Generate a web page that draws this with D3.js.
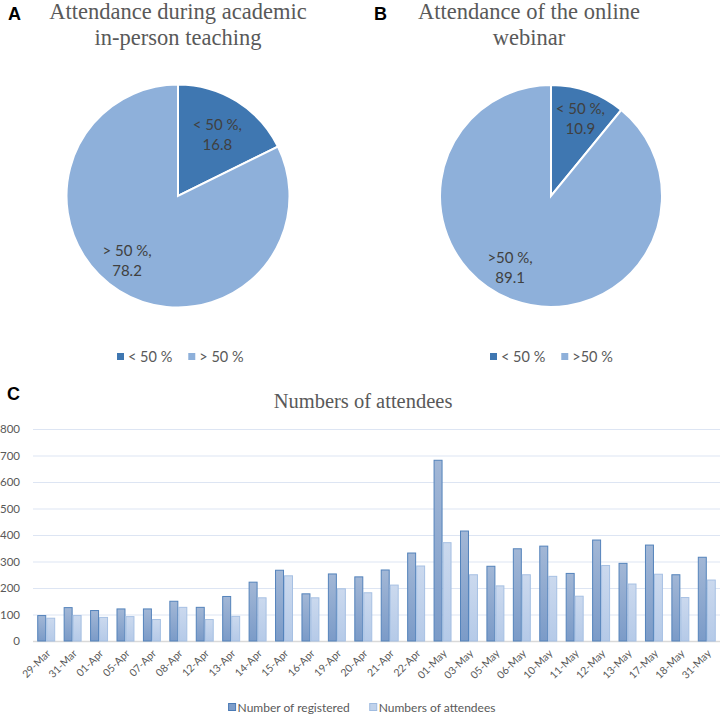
<!DOCTYPE html>
<html><head><meta charset="utf-8">
<script src="https://cdn.jsdelivr.net/npm/d3@7"></script>
<style>
html,body{margin:0;padding:0;background:#fff;}
svg{display:block;}
</style></head>
<body>
<svg id="chart" width="723" height="718"></svg>
<script>
// ---------- DATA ----------
const pieACategories = ["< 50 %", "> 50 %"];
const pieAValues = [16.8, 78.2];
const pieALabels = ["< 50 %,", "> 50 %,"];
const pieBCategories = ["< 50 %", ">50 %"];
const pieBValues = [10.9, 89.1];
const pieBLabels = ["< 50 %,", ">50 %,"];

const dates = ["29-Mar","31-Mar","01-Apr","05-Apr","07-Apr","08-Apr","12-Apr","13-Apr","14-Apr","15-Apr","16-Apr","19-Apr","20-Apr","21-Apr","22-Apr","01-May","03-May","05-May","06-May","10-May","11-May","12-May","13-May","17-May","18-May","31-May"];
const registered = [96,126,115,121,121,150,127,168,222,267,178,253,242,268,332,682,415,282,348,358,255,381,293,362,250,316];
const attendees  = [86,96,89,92,81,127,81,93,163,246,163,197,182,211,283,371,250,208,250,244,169,285,215,252,164,230];
const seriesNames = ["Number of registered", "Numbers of attendees"];
const yTicks = [0,100,200,300,400,500,600,700,800];

// ---------- SETUP ----------
const svg = d3.select("#chart");
const sans = "Lato, 'Open Sans', sans-serif";
const serif = "'Liberation Serif', 'Times New Roman', serif";
const gray = "#595959";
const pieColors = ["#3f77b1", "#8eb0da"];

const defs = svg.append("defs");
function grad(id, top, bottom) {
  const g = defs.append("linearGradient").attr("id", id).attr("x1",0).attr("y1",0).attr("x2",0).attr("y2",1);
  g.append("stop").attr("offset","0%").attr("stop-color",top);
  g.append("stop").attr("offset","100%").attr("stop-color",bottom);
}
grad("gDark", "#a2b7d6", "#7b9bc8");
grad("gLight", "#cbd9ee", "#b5cae8");

// panel letters
[["A",8,20],["B",374,20],["C",7,400]].forEach(([t,x,y]) => {
  svg.append("text").attr("x",x).attr("y",y).text(t)
    .attr("font-family","'Liberation Sans', Arial, sans-serif").attr("font-weight","bold")
    .attr("font-size",18).attr("fill","#000");
});

// ---------- PIES ----------
function drawPie(cfg) {
  const g = svg.append("g").attr("transform", `translate(${cfg.cx},${cfg.cy})`);
  const pie = d3.pie().sort(null).value(d => d)(cfg.values);
  const arc = d3.arc().innerRadius(0).outerRadius(cfg.r);
  g.selectAll("path").data(pie).join("path")
    .attr("d", arc).attr("fill", (d,i) => pieColors[i])
    .attr("stroke", "#fff").attr("stroke-width", 2);
  pie.forEach((d,i) => {
    const lr = cfg.r * cfg.labelR[i];
    const a = (d.startAngle + d.endAngle)/2 + cfg.labelShift[i];
    const x = Math.sin(a)*lr, y = -Math.cos(a)*lr;
    const t = g.append("text").attr("text-anchor","middle")
      .attr("font-family", sans).attr("font-size", 15).attr("fill","#404040");
    t.append("tspan").attr("x", x).attr("y", y - 9).text(cfg.labels[i]);
    t.append("tspan").attr("x", x).attr("y", y + 11).text(cfg.values[i]);
  });
  // title
  const tt = svg.append("text").attr("text-anchor","middle")
    .attr("font-family", serif).attr("font-size", 22.5).attr("fill", gray);
  cfg.title.forEach((line, k) => tt.append("tspan").attr("x", cfg.titleX).attr("y", 19 + k*26).text(line));
  // legend
  const lg = svg.append("g").attr("transform", `translate(${cfg.legendX},357)`);
  let off = 0;
  cfg.cats.forEach((c,i) => {
    lg.append("rect").attr("x", off).attr("y", -4).attr("width", 7).attr("height", 7).attr("fill", pieColors[i]);
    const tx = lg.append("text").attr("x", off + 11).attr("y", 5).text(c)
      .attr("font-family", sans).attr("font-size", 14.5).attr("fill", gray);
    off += 11 + tx.node().getComputedTextLength() + 16;
  });
}
drawPie({cx:178, cy:196, r:111.5, values:pieAValues, labels:pieALabels, cats:pieACategories,
  labelR:[0.62,0.77], labelShift:[0.05,0.08], title:["Attendance during academic","in-person teaching"], titleX:178, legendX:117});
drawPie({cx:551, cy:196, r:111, values:pieBValues, labels:pieBLabels, cats:pieBCategories,
  labelR:[0.71,0.78], labelShift:[0.04,0.15], title:["Attendance of the online","webinar"], titleX:529, legendX:490});

// ---------- BAR CHART ----------
const x0 = d3.scaleBand().domain(dates).range([33, 720]).paddingInner(0.32).paddingOuter(0.16);
const x1 = d3.scaleBand().domain([0,1]).range([0, x0.bandwidth()]);
const y = d3.scaleLinear().domain([0, 800]).range([641, 429]);

svg.append("text").attr("x", 363).attr("y", 408).attr("text-anchor","middle")
  .attr("font-family", serif).attr("font-size", 20.5).attr("fill", gray).text("Numbers of attendees");

// gridlines
const yAxis = d3.axisLeft(y).tickValues(yTicks).tickSize(-(720-33)).tickPadding(13);
const ya = svg.append("g").attr("transform","translate(33,0)").call(yAxis);
ya.select(".domain").remove();
ya.selectAll(".tick line").attr("stroke", d => d === 0 ? "#d9d9d9" : "#dde5f3").attr("stroke-width", d => d===0?1.3:1);
ya.selectAll(".tick text").attr("font-family", sans).attr("font-size", 11.5).attr("fill", gray);

// bars
const groups = svg.append("g").selectAll("g").data(dates).join("g")
  .attr("transform", d => `translate(${x0(d)},0)`);
groups.append("rect")
  .attr("x", x1(0)+0.5).attr("width", x1.bandwidth()-1)
  .attr("y", (d,i) => y(registered[i])).attr("height", (d,i) => y(0) - y(registered[i]))
  .attr("fill","url(#gDark)").attr("stroke","#5483bb").attr("stroke-width",1);
groups.append("rect")
  .attr("x", x1(1)+0.5).attr("width", x1.bandwidth()-1)
  .attr("y", (d,i) => y(attendees[i])).attr("height", (d,i) => y(0) - y(attendees[i]))
  .attr("fill","url(#gLight)").attr("stroke","#a6c0e3").attr("stroke-width",1);

// x labels
const xa = svg.append("g").attr("transform","translate(0,641)")
  .call(d3.axisBottom(x0).tickSize(0).tickPadding(0));
xa.select(".domain").remove();
xa.selectAll(".tick text")
  .attr("font-family", sans).attr("font-size", 10.5).attr("fill", gray)
  .attr("text-anchor","end").attr("dy", 0)
  .attr("transform","translate(5,13) rotate(-45)");

// legend (centered)
const bl = svg.append("g");
let boff = 0;
seriesNames.forEach((s,i) => {
  bl.append("rect").attr("x", boff).attr("y", -3.5).attr("width", 7).attr("height", 7)
    .attr("fill", i===0 ? "#7e9dc9" : "#c0d2eb").attr("stroke", i===0 ? "#4a7ab5" : "#9fbbe0");
  const t = bl.append("text").attr("x", boff + 9).attr("y", 4.5).text(s)
    .attr("font-family", sans).attr("font-size", 12).attr("fill", gray);
  boff += 9 + t.node().getComputedTextLength() + (i === 0 ? 20 : 0);
});
bl.attr("transform", `translate(${362 - boff/2},707)`);
</script>
</body></html>
